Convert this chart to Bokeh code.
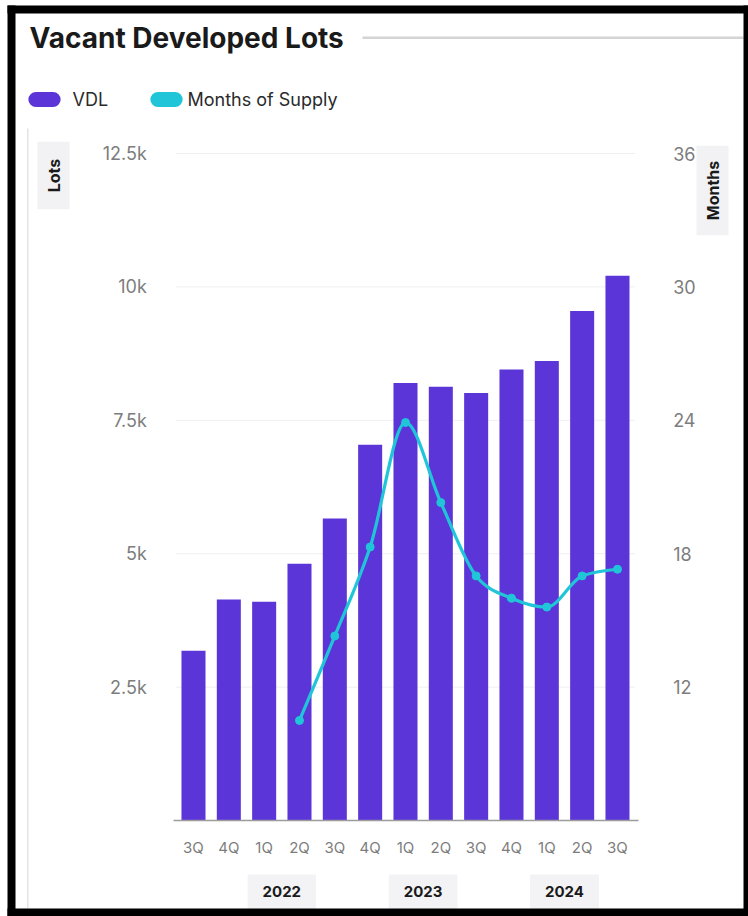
import math
from bokeh.plotting import figure
from bokeh.models import Range1d, LinearAxis, FixedTicker, Label, BoxAnnotation
from bokeh.embed import file_html
from bokeh.resources import INLINE

# ---------------- data ----------------
quarters = ["3Q", "4Q", "1Q", "2Q", "3Q", "4Q", "1Q", "2Q", "3Q", "4Q", "1Q", "2Q", "3Q"]
years = ["2022", "2023", "2024"]
year_first_quarter = [2, 6, 10]
vdl = [3180, 4140, 4100, 4810, 5660, 7040, 8200, 8130, 8010, 8450, 8610, 9550, 10210]
months_of_supply = [None, None, None, 10.5, 14.3, 18.3, 23.9, 20.3, 17.0, 16.0, 15.6, 17.0, 17.3]
lots_ticks = [2500, 5000, 7500, 10000, 12500]
lots_tick_labels = ["2.5k", "5k", "7.5k", "10k", "12.5k"]
month_ticks = [12, 18, 24, 30, 36]
month_tick_labels = ["12", "18", "24", "30", "36"]

# ---------------- style ----------------
PURPLE = "#5b35d8"
CYAN = "#20c6d8"
FONT = "Inter"
TICK_GREY = "#7d7d7d"
W, H = 748, 916

def X(px):          # page px -> screen units (frame == whole canvas)
    return px
def Y(py):
    return H - py

# The frame fills the canvas; axes are drawn at fixed locations inside it.
p = figure(width=W, height=H, min_border=0,
           x_range=Range1d(-5.462, 15.708), y_range=Range1d(-1799, 15367),
           x_axis_location=None, y_axis_location=None,
           output_backend="svg", toolbar_location=None,
           background_fill_color="white", border_fill_color="white")
p.outline_line_color = None
p.xgrid.visible = False
p.ygrid.visible = False
p.extra_y_ranges = {"months": Range1d(1.682, 42.882)}

idx = list(range(len(quarters)))

# grid lines at the lots ticks
p.segment(x0=[-0.5] * len(lots_ticks), x1=[12.5] * len(lots_ticks), y0=lots_ticks, y1=lots_ticks,
          line_color="#efefef", line_width=1)

p.vbar(x=idx, top=vdl, width=0.68, fill_color=PURPLE, line_color=None)

# Months of supply: smooth monotone curve through the points
mx = [i for i, v in zip(idx, months_of_supply) if v is not None]
my = [v for v in months_of_supply if v is not None]
n = len(mx)
slopes = [(my[i + 1] - my[i]) / (mx[i + 1] - mx[i]) for i in range(n - 1)]
tang = [0.0] * n
for i in range(1, n - 1):
    s0, s1 = slopes[i - 1], slopes[i]
    h0, h1 = mx[i] - mx[i - 1], mx[i + 1] - mx[i]
    pp = (s0 * h1 + s1 * h0) / (h0 + h1)
    sg = (math.copysign(1, s0) if s0 else 0) + (math.copysign(1, s1) if s1 else 0)
    tang[i] = sg * min(abs(s0), abs(s1), 0.5 * abs(pp))
tang[0] = (3 * slopes[0] - tang[1]) / 2
tang[-1] = (3 * slopes[-1] - tang[-2]) / 2
bx0, by0, bx1, by1, cx0, cy0, cx1, cy1 = [], [], [], [], [], [], [], []
for i in range(n - 1):
    dx = (mx[i + 1] - mx[i]) / 3
    bx0.append(mx[i]); by0.append(my[i]); bx1.append(mx[i + 1]); by1.append(my[i + 1])
    cx0.append(mx[i] + dx); cy0.append(my[i] + dx * tang[i])
    cx1.append(mx[i + 1] - dx); cy1.append(my[i + 1] - dx * tang[i + 1])
p.bezier(x0=bx0, y0=by0, x1=bx1, y1=by1, cx0=cx0, cy0=cy0, cx1=cx1, cy1=cy1,
         line_color=CYAN, line_width=3.2, y_range_name="months")
p.scatter(x=mx, y=my, size=8, fill_color=CYAN, line_color=CYAN, y_range_name="months")

# ---------------- axes ----------------
la = LinearAxis(fixed_location=-0.5, ticker=FixedTicker(ticks=lots_ticks),
                major_label_overrides=dict(zip(lots_ticks, lots_tick_labels)))
ra = LinearAxis(fixed_location=12.5, y_range_name="months", ticker=FixedTicker(ticks=month_ticks),
                major_label_overrides=dict(zip(month_ticks, month_tick_labels)))
ba = LinearAxis(fixed_location=0, ticker=FixedTicker(ticks=idx),
                major_label_overrides=dict(zip(idx, quarters)), bounds=(-0.56, 12.6))
p.add_layout(la, "left")
p.add_layout(ra, "right")
p.add_layout(ba, "below")

for ax in (la, ra, ba):
    ax.major_tick_line_color = None
    ax.minor_tick_line_color = None
    ax.major_label_text_font = FONT
    ax.major_label_text_color = TICK_GREY
for ax in (la, ra):
    ax.axis_line_color = None
    ax.major_label_text_font_size = "18px"
la.major_label_standoff = 23
ra.major_label_standoff = 32
ba.axis_line_color = "#9c9c9c"
ba.axis_line_width = 1.5
ba.major_label_text_font_size = "15px"
ba.major_label_standoff = 11

# ---------------- decoration ----------------
def box(l, r, t, b, color):
    p.add_layout(BoxAnnotation(left=X(l), right=X(r), top=Y(t), bottom=Y(b),
                               left_units="screen", right_units="screen",
                               top_units="screen", bottom_units="screen",
                               fill_color=color, fill_alpha=1.0, line_color=None, level="overlay"))

box(26.5, 28, 128, 908, "#e4e4e4")  # card edge
box(362, 743, 36, 38.5, "#d4d4d4")  # title rule
box(7, 15, 5, 916, "black")        # screenshot frame
box(7, 748, 5, 13, "black")
box(743, 748, 5, 916, "black")
box(7, 748, 908, 916, "black")

p.add_layout(Label(x=X(29), y=Y(37), x_units="screen", y_units="screen",
                   text="Vacant Developed Lots", text_font=FONT, text_font_size="28px",
                   text_font_style="bold", text_color="#1a1a1a",
                   text_align="left", text_baseline="middle"))

# legend
for cx, col, tx, txt in [(44, PURPLE, 72, "VDL"), (166, CYAN, 187, "Months of Supply")]:
    p.add_layout(Label(x=X(cx), y=Y(99), x_units="screen", y_units="screen", text=" ",
                       text_font_size="1px", text_align="center", text_baseline="middle",
                       background_fill_color=col, border_radius=8,
                       padding=dict(left=16, right=16, top=7, bottom=7)))
    p.add_layout(Label(x=X(tx), y=Y(99), x_units="screen", y_units="screen", text=txt,
                       text_font=FONT, text_font_size="18px", text_color="#2a2a2a",
                       text_align="left", text_baseline="middle"))

# axis title boxes
for cx, cy, txt, pad in [(53, 175, "Lots", 17), (712, 190, "Months", 15)]:
    p.add_layout(Label(x=X(cx), y=Y(cy), x_units="screen", y_units="screen", text=txt,
                       angle=math.pi / 2, text_font=FONT, text_font_size="16px",
                       text_font_style="bold", text_color="#1a1a1a",
                       text_align="center", text_baseline="middle",
                       background_fill_color="#f2f2f4",
                       padding=dict(left=pad, right=pad, top=6, bottom=6)))

# year boxes
for yr, fq in zip(years, year_first_quarter):
    p.add_layout(Label(x=fq + 0.5, y=Y(893), x_units="data", y_units="screen", text=yr,
                       text_font=FONT, text_font_size="15px", text_font_style="bold",
                       text_color="#1a1a1a", text_align="center", text_baseline="middle",
                       background_fill_color="#f3f3f5",
                       padding=dict(left=15, right=15, top=11, bottom=16)))

open("out.html", "w").write(file_html(p, INLINE))
